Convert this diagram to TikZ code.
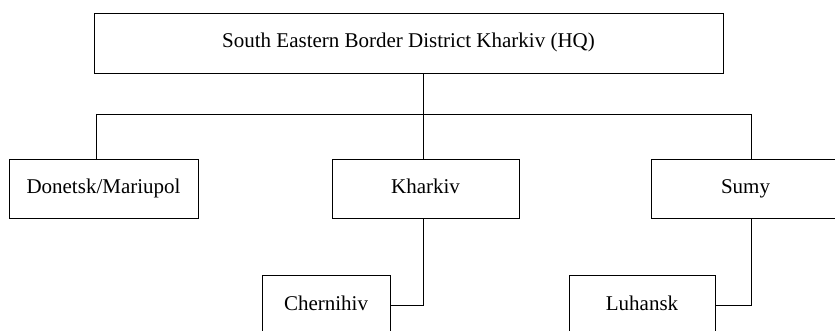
\documentclass[tikz,border=0pt]{standalone}
\usepackage{fontspec}
\setmainfont{Liberation Serif}
\usepackage{tikz}
\usetikzlibrary{calc}

\begin{document}
\begin{tikzpicture}[x=1pt, y=-1pt, line width=0.9pt,
	unit/.style={draw, rectangle, inner sep=0pt, minimum height=59pt, text height=14pt, text depth=4pt, font=\fontsize{21}{25}\selectfont}]
	
	\useasboundingbox (0,0) rectangle (835,331);
	
	\coordinate (bus) at (423,114);
	\coordinate (busl) at (96,114);
	\coordinate (busr) at (751,114);
	
	\node[unit, minimum width=629pt, minimum height=60pt] (hq) at (408.5,43) {South Eastern Border District Kharkiv (HQ)};
	\node[unit, minimum width=189pt] (don) at (103.5,188.5) {Donetsk/Mariupol};
	\node[unit, minimum width=187pt] (kha) at (425.5,188.5) {Kharkiv};
	\node[unit, minimum width=189pt] (sum) at (745.5,188.5) {Sumy};
	\node[unit, minimum width=128pt, minimum height=60pt] (che) at (326,305) {Chernihiv};
	\node[unit, minimum width=146pt, minimum height=60pt] (luh) at (642,305) {Luhansk};
	
	\draw (hq.south -| bus) -- (bus);
	\draw (busl) -- (busr);
	\draw (busl) -- (don.north -| busl);
	\draw (bus) -- (kha.north -| bus);
	\draw (busr) -- (sum.north -| busr);
	\draw (kha.south -| bus) |- (che.east);
	\draw (sum.south -| busr) |- (luh.east);
	
\end{tikzpicture}
\end{document}
